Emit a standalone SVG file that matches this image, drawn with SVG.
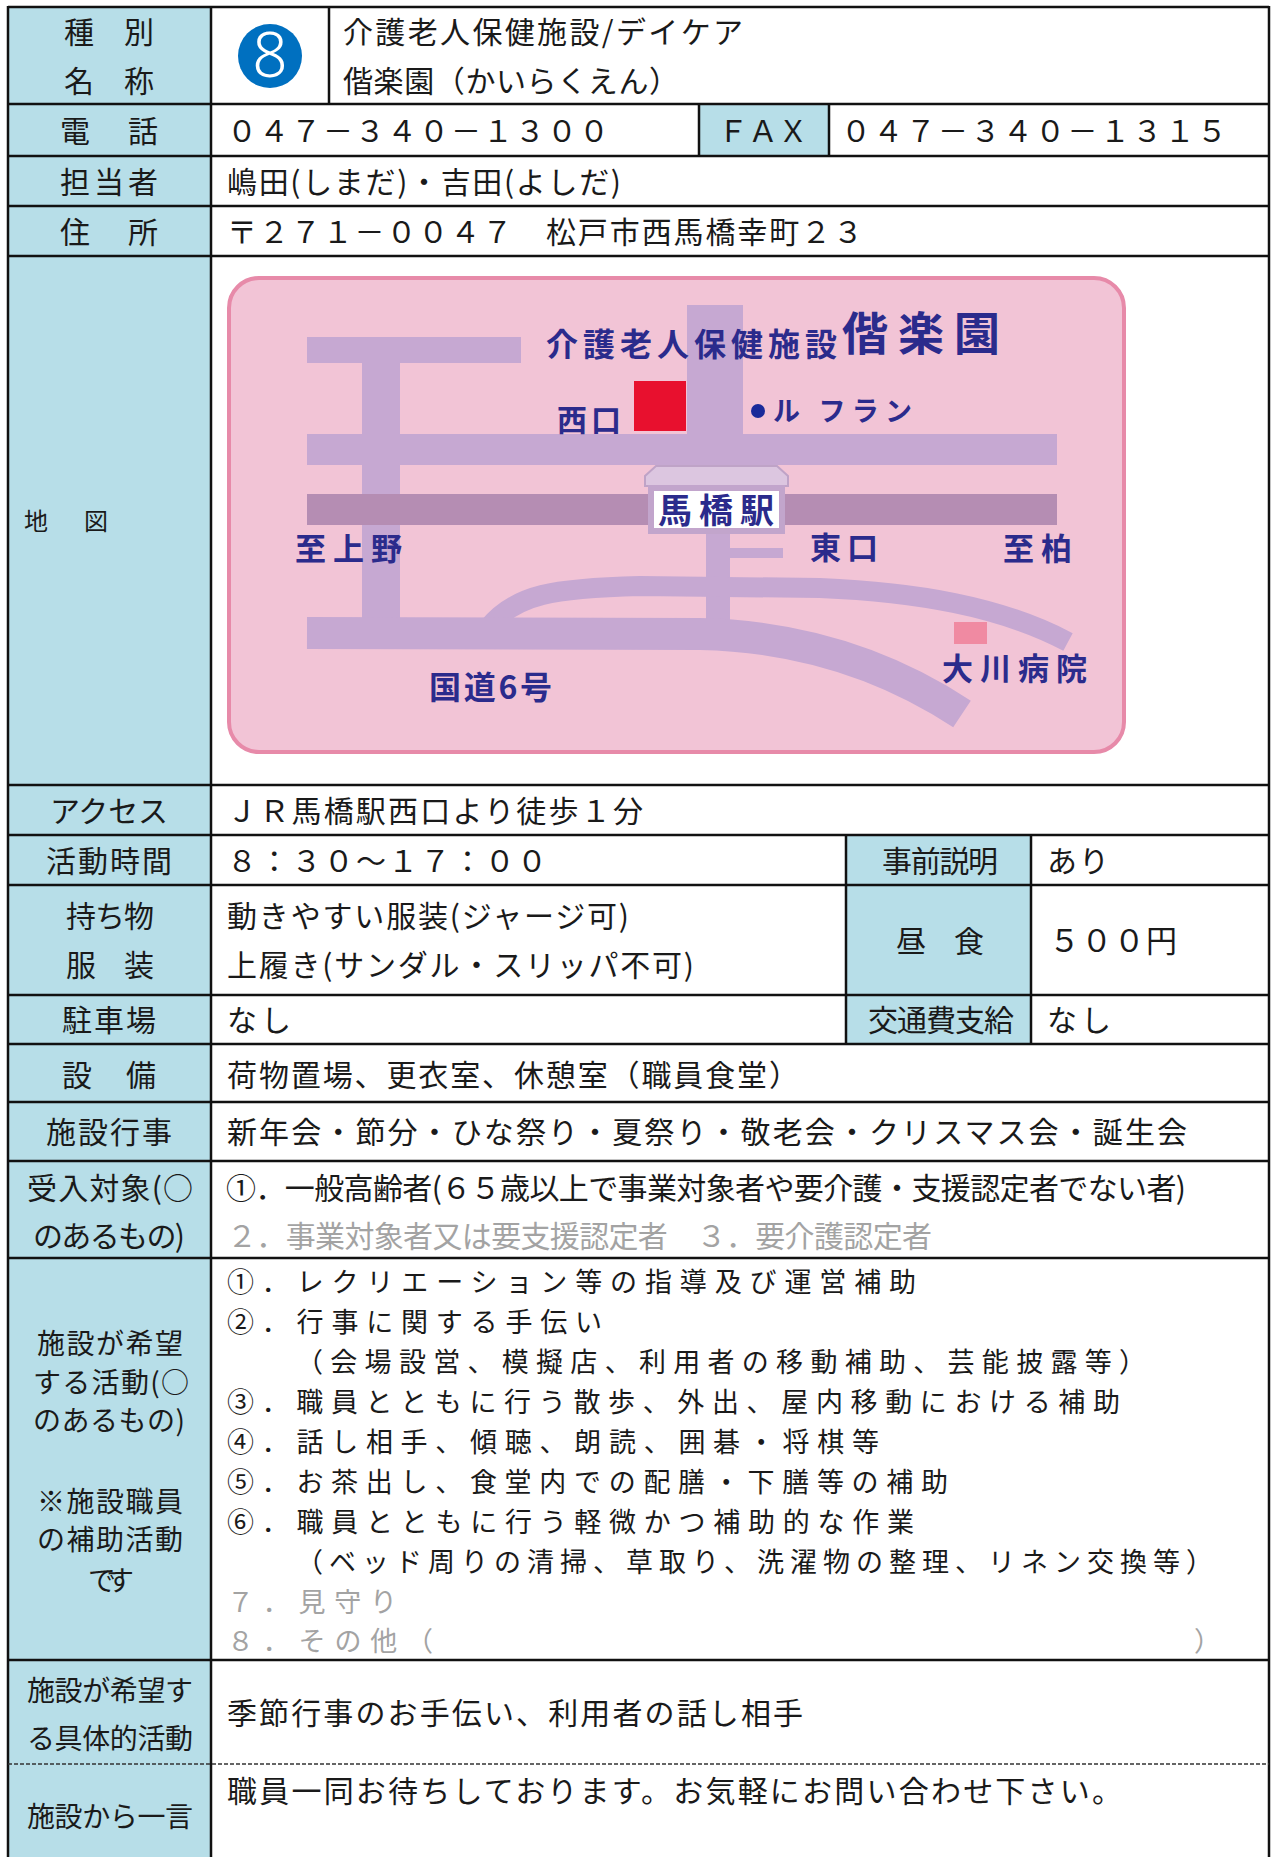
<svg xmlns="http://www.w3.org/2000/svg" width="1272" height="1857" viewBox="0 0 1272 1857">
<style>
text{font-family:"Noto Sans CJK JP","Noto Sans CJK SC",sans-serif;font-size:30px;fill:#1a1a1a}
.s25{font-size:27px}
.s26{font-size:28px}
.g{fill:#a3a3a3}
.lab{fill:#b7dee8}
.ln{stroke:#111;stroke-width:2.5;fill:none}
.road{fill:#c6a8d2}
.rs{stroke:#c6a8d2;fill:none}
.mt{fill:#2b2b8c;font-weight:700}
</style>
<rect x="0" y="0" width="1272" height="1857" fill="#ffffff"/>

<g id="label-fills">
<rect class="lab" x="8" y="7" width="203" height="1850"/>
<rect class="lab" x="699" y="104" width="130" height="52"/>
<rect class="lab" x="846" y="835" width="185" height="209"/>
</g>

<g id="row-name">
<text x="64" y="43" textLength="90">種　別</text>
<text x="64" y="92" textLength="90">名　称</text>
<circle cx="270" cy="56" r="32" fill="#0070c0"/>
<text x="270" y="77" text-anchor="middle" style="font-family:'Noto Sans','DejaVu Sans',sans-serif;font-size:62px;fill:#ffffff;font-weight:300">8</text>
<text x="343" y="43" textLength="400">介護老人保健施設/デイケア</text>
<text x="343" y="92" textLength="336">偕楽園（かいらくえん）</text>
</g>

<g id="row-tel">
<text x="60" y="142" textLength="98">電　話</text>
<text x="227" y="142" textLength="382">０４７－３４０－１３００</text>
<text x="718" y="142" textLength="90">ＦＡＸ</text>
<text x="841" y="142" textLength="386">０４７－３４０－１３１５</text>
</g>

<g id="row-contact">
<text x="60" y="193" textLength="98">担当者</text>
<text x="227" y="193" textLength="394">嶋田(しまだ)・吉田(よしだ)</text>
</g>

<g id="row-address">
<text x="60" y="243" textLength="98">住　所</text>
<text x="227" y="243" textLength="636">〒２７１－００４７　松戸市西馬橋幸町２３</text>
</g>

<g id="row-map">
<text x="24" y="530" style="font-size:24px" textLength="84">地　図</text>
<g id="map">
<rect x="229" y="278" width="895" height="474" rx="30" fill="#f2c4d6" stroke="#e78aa9" stroke-width="4"/>
<rect class="road" x="307" y="337" width="214" height="26"/>
<rect class="road" x="362" y="362" width="38" height="262"/>
<rect class="road" x="687" y="305" width="56" height="132"/>
<rect class="road" x="307" y="434" width="750" height="31"/>
<rect x="307" y="494" width="750" height="31" fill="#b58db3"/>
<rect class="road" x="706" y="530" width="24" height="92"/>
<rect class="road" x="728" y="548" width="55" height="10"/>
<path class="rs" stroke-width="20" d="M488 628 C515 594 555 588 640 586 L820 588 C915 592 1000 606 1068 642"/>
<path class="rs" stroke-width="32" d="M307 633 L700 634 C790 636 880 660 962 714"/>
<polygon points="645,486 645,476 656,466 777,466 788,476 788,486" fill="#dcc6e0" stroke="#bfa3c7" stroke-width="2"/>
<rect x="648" y="485" width="137" height="49" fill="#c2a5cc"/>
<rect x="654" y="491" width="125" height="37" fill="#ffffff"/>
<rect x="634" y="381" width="52" height="50" fill="#e8102e"/>
<rect x="954" y="622" width="33" height="22" fill="#f08aa2"/>
<circle cx="758" cy="411" r="7" fill="#1a2a9a"/>
<text class="mt" x="546" y="356" style="font-size:32px" textLength="291">介護老人保健施設</text>
<text class="mt" x="842" y="350" style="font-size:46px" textLength="158">偕楽園</text>
<text class="mt" x="557" y="431" textLength="64">西口</text>
<text class="mt" x="773" y="421" style="font-size:27px" textLength="139">ル フラン</text>
<text class="mt" x="658" y="523" style="font-size:34px" textLength="116">馬橋駅</text>
<text class="mt" x="810" y="559" style="font-size:31px" textLength="68">東口</text>
<text class="mt" x="1003" y="560" style="font-size:31px" textLength="69">至柏</text>
<text class="mt" x="295" y="560" style="font-size:31px" textLength="107">至上野</text>
<text class="mt" x="942" y="680" style="font-size:31px" textLength="145">大川病院</text>
<text class="mt" x="429" y="699" style="font-size:32px" textLength="123">国道6号</text>
</g>
</g>

<g id="row-access">
<text x="50" y="822" textLength="118">アクセス</text>
<text x="227" y="822" textLength="416">ＪＲ馬橋駅西口より徒歩１分</text>
</g>

<g id="row-hours">
<text x="46" y="872" textLength="126">活動時間</text>
<text x="227" y="872" textLength="320">８：３０～１７：００</text>
<text x="882" y="872" textLength="116">事前説明</text>
<text x="1047" y="872" textLength="62">あり</text>
</g>

<g id="row-belongings">
<text x="66" y="927" textLength="88">持ち物</text>
<text x="66" y="976" textLength="88">服　装</text>
<text x="227" y="927" textLength="402">動きやすい服装(ジャージ可)</text>
<text x="227" y="976" textLength="467">上履き(サンダル・スリッパ不可)</text>
<text x="896" y="952" textLength="88">昼　食</text>
<text x="1049" y="952" style="font-size:31px" textLength="128">５００円</text>
</g>

<g id="row-parking">
<text x="62" y="1031" textLength="94">駐車場</text>
<text x="227" y="1031" textLength="64">なし</text>
<text x="868" y="1031" textLength="146">交通費支給</text>
<text x="1047" y="1031" textLength="64">なし</text>
</g>

<g id="row-facilities">
<text x="62" y="1086" textLength="94">設　備</text>
<text x="227" y="1086" textLength="572">荷物置場、更衣室、休憩室（職員食堂）</text>
</g>

<g id="row-events">
<text x="46" y="1143" textLength="126">施設行事</text>
<text x="227" y="1143" textLength="960">新年会・節分・ひな祭り・夏祭り・敬老会・クリスマス会・誕生会</text>
</g>

<g id="row-target">
<text x="27" y="1199" textLength="166">受入対象(○</text>
<text x="33" y="1247" textLength="152">のあるもの)</text>
<text x="226" y="1199" textLength="960">①．一般高齢者(６５歳以上で事業対象者や要介護・支援認定者でない者)</text>
<text class="g" x="227" y="1247" textLength="705">２．事業対象者又は要支援認定者　３．要介護認定者</text>
</g>

<g id="row-activities">
<text class="s26" x="37" y="1354" textLength="146">施設が希望</text>
<text class="s26" x="33" y="1393" textLength="156">する活動(○</text>
<text class="s26" x="33" y="1431" textLength="152">のあるもの)</text>
<text class="s26" x="37" y="1512" textLength="146">※施設職員</text>
<text class="s26" x="37" y="1550" textLength="146">の補助活動</text>
<text class="s26" x="88" y="1591" textLength="46">です</text>
<text class="s25" x="227" y="1292" textLength="689">①．レクリエーション等の指導及び運営補助</text>
<text class="s25" x="227" y="1332" textLength="375">②．行事に関する手伝い</text>
<text class="s25" x="296" y="1372" textLength="850">（会場設営、模擬店、利用者の移動補助、芸能披露等）</text>
<text class="s25" x="227" y="1412" textLength="893">③．職員とともに行う散歩、外出、屋内移動における補助</text>
<text class="s25" x="227" y="1452" textLength="652">④．話し相手、傾聴、朗読、囲碁・将棋等</text>
<text class="s25" x="227" y="1492" textLength="721">⑤．お茶出し、食堂内での配膳・下膳等の補助</text>
<text class="s25" x="227" y="1532" textLength="687">⑥．職員とともに行う軽微かつ補助的な作業</text>
<text class="s25" x="296" y="1572" textLength="917">（ベッド周りの清掃、草取り、洗濯物の整理、リネン交換等）</text>
<text class="s25 g" x="227" y="1612" textLength="170">７．見守り</text>
<text class="s25 g" x="227" y="1651" textLength="206">８．その他（</text>
<text class="s25 g" x="1194" y="1651">）</text>
</g>

<g id="row-specific">
<text class="s26" x="27" y="1701" textLength="166">施設が希望す</text>
<text class="s26" x="27" y="1749" textLength="166">る具体的活動</text>
<text x="227" y="1724" textLength="576">季節行事のお手伝い、利用者の話し相手</text>
</g>

<g id="row-message">
<text class="s26" x="27" y="1827" textLength="166">施設から一言</text>
<text x="227" y="1802" textLength="895">職員一同お待ちしております。お気軽にお問い合わせ下さい。</text>
</g>

<g id="grid-lines">
<path class="ln" d="M8 7 H1269 M8 104 H1269 M8 156 H1269 M8 206 H1269 M8 256 H1269 M8 785 H1269 M8 835 H1269 M8 885 H1269 M8 995 H1269 M8 1044 H1269 M8 1102 H1269 M8 1161 H1269 M8 1258 H1269 M8 1660 H1269"/>
<path class="ln" d="M8 6 V1857 M211 6 V1857 M1269 6 V1857 M329 7 V104 M699 104 V156 M829 104 V156 M846 835 V1044 M1031 835 V1044"/>
<path d="M8 1764 H1269" stroke="#333" stroke-width="1.3" stroke-dasharray="4 2" fill="none"/>
</g>
</svg>
